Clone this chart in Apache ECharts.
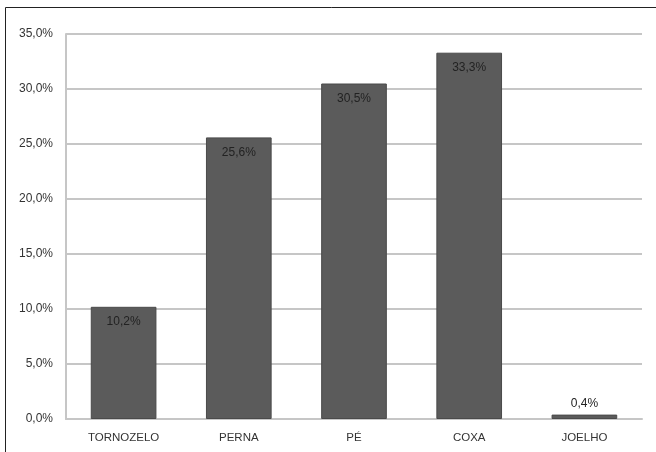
<!DOCTYPE html>
<html>
<head>
<meta charset="utf-8">
<script src="https://cdn.jsdelivr.net/npm/echarts@6/dist/echarts.min.js"></script>
<style>
  html, body { margin: 0; padding: 0; background: #fff; }
  #chart { width: 656px; height: 452px; }
</style>
</head>
<body>
<div id="chart"></div>
<script>
// Distribution of injuries by body region (%)
const categories = ['TORNOZELO', 'PERNA', 'PÉ', 'COXA', 'JOELHO'];
const percentages = [10.2, 25.6, 30.5, 33.3, 0.4];
const yTicks = [0, 5, 10, 15, 20, 25, 30, 35];

const fmt = v => v.toFixed(1).replace('.', ',') + '%';
const font = 'Liberation Sans, Arial, sans-serif';

const chart = echarts.init(document.getElementById('chart'));
chart.setOption({
  animation: false,
  backgroundColor: '#fff',
  graphic: [
    { type: 'rect', shape: { x: 5.5, y: 7.5, width: 700, height: 500 },
      style: { fill: 'none', stroke: '#222', lineWidth: 1 }, silent: true }
  ],
  grid: { left: 66, right: 14, top: 34, bottom: 33, containLabel: false },
  xAxis: {
    type: 'category',
    data: categories,
    axisLine: { show: true, lineStyle: { color: '#c6c6c6', width: 2 } },
    axisTick: { show: false },
    axisLabel: { color: '#333', fontSize: 11.5, fontFamily: font, margin: 13 }
  },
  yAxis: {
    type: 'value',
    min: yTicks[0],
    max: yTicks[yTicks.length - 1],
    interval: 5,
    axisLine: { show: true, lineStyle: { color: '#c6c6c6', width: 2 } },
    axisTick: { show: false },
    splitLine: { lineStyle: { color: '#c6c6c6', width: 2 } },
    axisLabel: { color: '#333', fontSize: 12, fontFamily: font, margin: 13,
      formatter: v => fmt(v) }
  },
  series: [{
    type: 'bar',
    data: percentages.map(v => ({
      value: v,
      label: v < 2 ? { position: 'top', distance: 5 } : undefined
    })),
    barWidth: '57%',
    itemStyle: { color: '#5b5b5b', borderColor: '#4a4a4a', borderWidth: 1 },
    label: {
      show: true,
      position: 'insideTop',
      distance: 9,
      color: '#222',
      fontSize: 12,
      fontFamily: font,
      formatter: p => fmt(p.value)
    }
  }]
});
</script>
</body>
</html>
